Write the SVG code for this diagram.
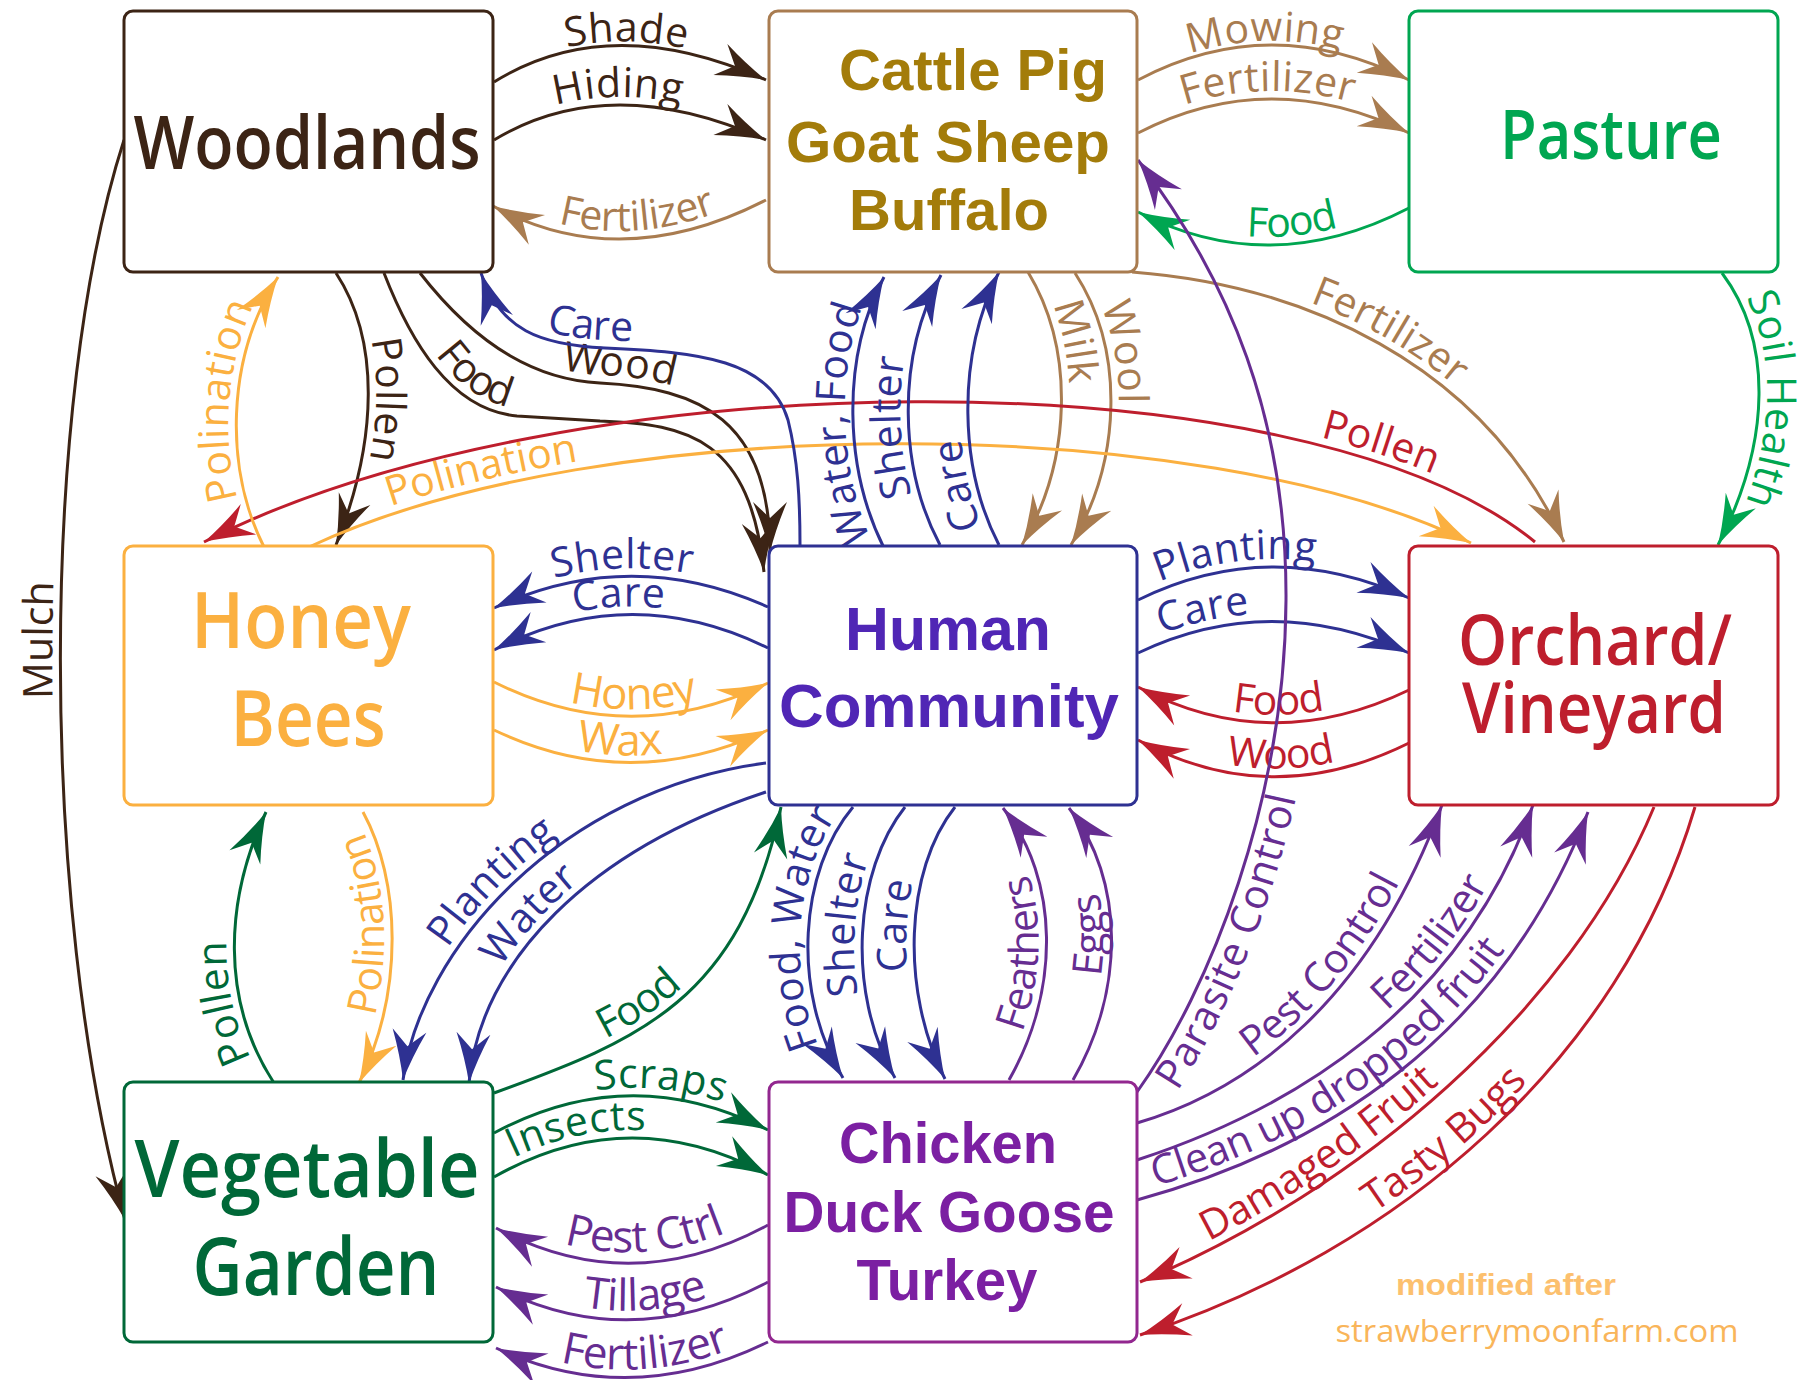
<svg xmlns="http://www.w3.org/2000/svg" width="1810" height="1380" viewBox="0 0 1810 1380">
<style>
.c{fill:none;stroke-width:3}
.br{stroke:#3c2415}.tn{stroke:#a97c50}.gr{stroke:#00a651}.or{stroke:#fbb040}.bl{stroke:#2e3192}.rd{stroke:#be1e2d}.dg{stroke:#006838}.pu{stroke:#662d91}
.l{font-family:"Open Sans","Noto Sans",sans-serif;font-size:41px}
.lg{font-size:44px}
.fbr{fill:#3c2415}.ftn{fill:#a97c50}.fgr{fill:#00a651}.for{fill:#fbb040}.fbl{fill:#2e3192}.frd{fill:#be1e2d}.fdg{fill:#006838}.fpu{fill:#662d91}
.box{fill:#fff;stroke-width:3}
.nt{font-family:"Open Sans","Noto Sans",sans-serif;font-weight:600;text-anchor:middle}
.nb{font-family:"Liberation Sans",Arial,sans-serif;font-weight:bold;text-anchor:middle}
</style>
<defs>
<marker id="a-br" viewBox="-52 -18 54 36" markerWidth="54" markerHeight="36" refX="0" refY="0" orient="auto-start-reverse" markerUnits="userSpaceOnUse"><path d="M0,0 Q-24,-6 -50,-17 L-34,0 L-50,17 Q-24,6 0,0Z" fill="#3c2415"/></marker>
<marker id="a-tn" viewBox="-52 -18 54 36" markerWidth="54" markerHeight="36" refX="0" refY="0" orient="auto-start-reverse" markerUnits="userSpaceOnUse"><path d="M0,0 Q-24,-6 -50,-17 L-34,0 L-50,17 Q-24,6 0,0Z" fill="#a97c50"/></marker>
<marker id="a-gr" viewBox="-52 -18 54 36" markerWidth="54" markerHeight="36" refX="0" refY="0" orient="auto-start-reverse" markerUnits="userSpaceOnUse"><path d="M0,0 Q-24,-6 -50,-17 L-34,0 L-50,17 Q-24,6 0,0Z" fill="#00a651"/></marker>
<marker id="a-or" viewBox="-52 -18 54 36" markerWidth="54" markerHeight="36" refX="0" refY="0" orient="auto-start-reverse" markerUnits="userSpaceOnUse"><path d="M0,0 Q-24,-6 -50,-17 L-34,0 L-50,17 Q-24,6 0,0Z" fill="#fbb040"/></marker>
<marker id="a-bl" viewBox="-52 -18 54 36" markerWidth="54" markerHeight="36" refX="0" refY="0" orient="auto-start-reverse" markerUnits="userSpaceOnUse"><path d="M0,0 Q-24,-6 -50,-17 L-34,0 L-50,17 Q-24,6 0,0Z" fill="#2e3192"/></marker>
<marker id="a-rd" viewBox="-52 -18 54 36" markerWidth="54" markerHeight="36" refX="0" refY="0" orient="auto-start-reverse" markerUnits="userSpaceOnUse"><path d="M0,0 Q-24,-6 -50,-17 L-34,0 L-50,17 Q-24,6 0,0Z" fill="#be1e2d"/></marker>
<marker id="a-dg" viewBox="-52 -18 54 36" markerWidth="54" markerHeight="36" refX="0" refY="0" orient="auto-start-reverse" markerUnits="userSpaceOnUse"><path d="M0,0 Q-24,-6 -50,-17 L-34,0 L-50,17 Q-24,6 0,0Z" fill="#006838"/></marker>
<marker id="a-pu" viewBox="-52 -18 54 36" markerWidth="54" markerHeight="36" refX="0" refY="0" orient="auto-start-reverse" markerUnits="userSpaceOnUse"><path d="M0,0 Q-24,-6 -50,-17 L-34,0 L-50,17 Q-24,6 0,0Z" fill="#662d91"/></marker>
</defs>
<rect width="1810" height="1380" fill="#fff"/>
<g id="connectors">
<!-- Woodlands -->
<path id="p1" class="c br" d="M494,82 Q610,10 766,80" marker-end="url(#a-br)"/>
<text class="l fbr" font-size="39"><textPath href="#p1" startOffset="49%" text-anchor="middle"><tspan dy="-4">Shade</tspan></textPath></text>
<path id="p2" class="c br" d="M494,140 Q610,70 766,140" marker-end="url(#a-br)"/>
<text class="l fbr"><textPath href="#p2" startOffset="46%" text-anchor="middle"><tspan dy="-8">Hiding</tspan></textPath></text>
<path id="p3" class="c tn" d="M493,206 Q620,275 766,200" marker-start="url(#a-tn)"/>
<text class="l ftn"><textPath href="#p3" startOffset="53%" text-anchor="middle"><tspan dy="-8">Fertilizer</tspan></textPath></text>
<path id="p5" class="c br" d="M336,273 C380,340 378,440 336,545" marker-end="url(#a-br)"/>
<text class="l fbr"><textPath href="#p5" startOffset="47%" text-anchor="middle"><tspan dy="-8">Pollen</tspan></textPath></text>
<path id="p6" class="c br" d="M384,273 C410,340 450,410 517,416 L600,421 C690,424 750,440 764,572" marker-end="url(#a-br)"/>
<text class="l fbr"><textPath href="#p6" startOffset="98"><tspan dy="-8">Food</tspan></textPath></text>
<path id="p7" class="c br" d="M420,273 C480,350 540,380 600,383 C700,388 770,420 770,552" marker-end="url(#a-br)"/>
<text class="l fbr"><textPath href="#p7" startOffset="178"><tspan dy="-8">Wood</tspan></textPath></text>
<path id="p12" class="c br" d="M125,1220 C38,900 40,400 124,140" marker-start="url(#a-br)"/>
<text class="l fbr"><textPath href="#p12" startOffset="53.6%" text-anchor="middle"><tspan dy="-8">Mulch</tspan></textPath></text>
<!-- Cattle / Pasture -->
<path id="p13" class="c tn" d="M1138,80 Q1270,10 1409,80" marker-end="url(#a-tn)"/>
<text class="l ftn" font-size="39"><textPath href="#p13" startOffset="47%" text-anchor="middle"><tspan dy="-4">Mowing</tspan></textPath></text>
<path id="p14" class="c tn" d="M1138,133 Q1270,65 1409,133" marker-end="url(#a-tn)"/>
<text class="l ftn"><textPath href="#p14" startOffset="48%" text-anchor="middle"><tspan dy="-8">Fertilizer</tspan></textPath></text>
<path id="p15" class="c gr" d="M1138,212 Q1270,280 1409,208" marker-start="url(#a-gr)"/>
<text class="l fgr"><textPath href="#p15" startOffset="57%" text-anchor="middle"><tspan dy="-8">Food</tspan></textPath></text>
<path id="p16" class="c tn" d="M1132,272 C1300,285 1480,360 1564,542" marker-end="url(#a-tn)"/>
<text class="l ftn"><textPath href="#p16" startOffset="49%" text-anchor="middle"><tspan dy="-8">Fertilizer</tspan></textPath></text>
<path id="p17" class="c gr" d="M1722,273 C1772,340 1772,440 1718,545" marker-end="url(#a-gr)"/>
<text class="l fgr"><textPath href="#p17" startOffset="47%" text-anchor="middle"><tspan dy="-8">Soil Health</tspan></textPath></text>
<path id="p32" class="c tn" d="M1028,272 C1075,350 1072,460 1022,545" marker-end="url(#a-tn)"/>
<text class="l ftn"><textPath href="#p32" startOffset="27.5%" text-anchor="middle"><tspan dy="-8">Milk</tspan></textPath></text>
<path id="p33" class="c tn" d="M1075,273 C1125,350 1122,460 1071,545" marker-end="url(#a-tn)"/>
<text class="l ftn"><textPath href="#p33" startOffset="31%" text-anchor="middle"><tspan dy="-8">Wool</tspan></textPath></text>
<!-- long arcs -->
<path id="p10" class="c or" d="M309,547 C600,410 1200,410 1471,543" marker-end="url(#a-or)"/>
<text class="l for"><textPath href="#p10" startOffset="90"><tspan dy="-8">Polination</tspan></textPath></text>
<path id="p11" class="c rd" d="M204,542 C560,360 1300,350 1535,542" marker-start="url(#a-rd)"/>
<text class="l frd"><textPath href="#p11" startOffset="1255" text-anchor="end"><tspan dy="-8">Pollen</tspan></textPath></text>
<path id="p9" class="c or" d="M264,547 C225,470 225,360 278,277" marker-end="url(#a-or)"/>
<text class="l for"><textPath href="#p9" startOffset="53%" text-anchor="middle"><tspan dy="-8">Polination</tspan></textPath></text>
<path id="p8" class="c bl" d="M481,273 C500,330 540,345 605,348 C700,352 770,360 788,420 C798,460 800,500 800,545" marker-start="url(#a-bl)"/>
<text class="l fbl"><textPath href="#p8" startOffset="95"><tspan dy="-8">Care</tspan></textPath></text>
<!-- Human to Cattle -->
<path id="p26w" class="c bl" d="M884,548 C845,470 840,360 884,277" marker-end="url(#a-bl)"/>
<text class="l fbl"><textPath href="#p26w" startOffset="46%" text-anchor="middle"><tspan dy="-8">Water, Food</tspan></textPath></text>
<path id="p27s" class="c bl" d="M940,545 C900,470 895,360 941,275" marker-end="url(#a-bl)"/>
<text class="l fbl"><textPath href="#p27s" startOffset="44%" text-anchor="middle"><tspan dy="-8">Shelter</tspan></textPath></text>
<path id="p28c" class="c bl" d="M999,545 C960,470 955,360 999,272" marker-end="url(#a-bl)"/>
<text class="l fbl"><textPath href="#p28c" startOffset="24%" text-anchor="middle"><tspan dy="-8">Care</tspan></textPath></text>
<!-- Honey / Human -->
<path id="p18" class="c bl" d="M494,608 Q630,545 768,607" marker-start="url(#a-bl)"/>
<text class="l fbl"><textPath href="#p18" startOffset="47%" text-anchor="middle"><tspan dy="-8">Shelter</tspan></textPath></text>
<path id="p19" class="c bl" d="M494,650 Q630,580 768,648" marker-start="url(#a-bl)"/>
<text class="l fbl"><textPath href="#p19" startOffset="46%" text-anchor="middle"><tspan dy="-8">Care</tspan></textPath></text>
<path id="p20" class="c or" d="M494,682 Q630,750 768,683" marker-end="url(#a-or)"/>
<text class="l lg for"><textPath href="#p20" startOffset="51%" text-anchor="middle"><tspan dy="-7">Honey</tspan></textPath></text>
<path id="p21" class="c or" d="M494,730 Q630,795 768,730" marker-end="url(#a-or)"/>
<text class="l lg for"><textPath href="#p21" startOffset="46%" text-anchor="middle"><tspan dy="-7">Wax</tspan></textPath></text>
<!-- Honey / Veg -->
<path id="p22" class="c dg" d="M274,1083 C220,1000 225,900 266,812" marker-end="url(#a-dg)"/>
<text class="l fdg"><textPath href="#p22" startOffset="32%" text-anchor="middle"><tspan dy="-8">Pollen</tspan></textPath></text>
<path id="p23" class="c or" d="M359,1083 C405,990 400,880 363,812" marker-start="url(#a-or)"/>
<text class="l for"><textPath href="#p23" startOffset="59%" text-anchor="middle"><tspan dy="-8">Polination</tspan></textPath></text>
<!-- Human / Veg -->
<path id="p24" class="c bl" d="M403,1080 C420,950 560,790 766,763" marker-start="url(#a-bl)"/>
<text class="l fbl"><textPath href="#p24" startOffset="42%" text-anchor="middle"><tspan dy="-8">Planting</tspan></textPath></text>
<path id="p25" class="c bl" d="M469,1083 C480,960 590,850 766,792" marker-start="url(#a-bl)"/>
<text class="l fbl"><textPath href="#p25" startOffset="40%" text-anchor="middle"><tspan dy="-8">Water</tspan></textPath></text>
<path id="p25f" class="c dg" d="M494,1093 C640,1040 740,1000 781,807" marker-end="url(#a-dg)"/>
<text class="l fdg"><textPath href="#p25f" startOffset="40%" text-anchor="middle"><tspan dy="-8">Food</tspan></textPath></text>
<!-- Veg / Chicken -->
<path id="p26" class="c dg" d="M494,1133 Q630,1060 768,1130" marker-end="url(#a-dg)"/>
<text class="l fdg"><textPath href="#p26" startOffset="60%" text-anchor="middle"><tspan dy="-8">Scraps</tspan></textPath></text>
<path id="p27" class="c dg" d="M494,1177 Q630,1100 768,1175" marker-end="url(#a-dg)"/>
<text class="l fdg"><textPath href="#p27" startOffset="32%" text-anchor="middle"><tspan dy="-8">Insects</tspan></textPath></text>
<path id="p28" class="c pu" d="M496,1228 Q630,1300 768,1225" marker-start="url(#a-pu)"/>
<text class="l lg fpu"><textPath href="#p28" startOffset="55%" text-anchor="middle"><tspan dy="-11">Pest Ctrl</tspan></textPath></text>
<path id="p29" class="c pu" d="M496,1287 Q630,1355 768,1282" marker-start="url(#a-pu)"/>
<text class="l lg fpu"><textPath href="#p29" startOffset="55%" text-anchor="middle"><tspan dy="-9">Tillage</tspan></textPath></text>
<path id="p30" class="c pu" d="M496,1348 Q630,1410 768,1342" marker-start="url(#a-pu)"/>
<text class="l lg fpu"><textPath href="#p30" startOffset="55%" text-anchor="middle"><tspan dy="-8">Fertilizer</tspan></textPath></text>
<!-- Human / Chicken -->
<path id="p31a" class="c bl" d="M843,1078 C790,990 800,870 853,807" marker-start="url(#a-bl)"/>
<text class="l fbl"><textPath href="#p31a" startOffset="54%" text-anchor="middle"><tspan dy="-8">Food, Water</tspan></textPath></text>
<path id="p31b" class="c bl" d="M895,1078 C845,990 855,870 905,807" marker-start="url(#a-bl)"/>
<text class="l fbl"><textPath href="#p31b" startOffset="55%" text-anchor="middle"><tspan dy="-8">Shelter</tspan></textPath></text>
<path id="p31c" class="c bl" d="M945,1079 C900,990 905,870 955,807" marker-start="url(#a-bl)"/>
<text class="l fbl"><textPath href="#p31c" startOffset="55%" text-anchor="middle"><tspan dy="-8">Care</tspan></textPath></text>
<path id="p32f" class="c pu" d="M1009,1080 C1060,990 1060,880 1003,808" marker-end="url(#a-pu)"/>
<text class="l fpu"><textPath href="#p32f" startOffset="46%" text-anchor="middle"><tspan dy="-8">Feathers</tspan></textPath></text>
<path id="p33e" class="c pu" d="M1073,1080 C1125,990 1125,880 1069,808" marker-end="url(#a-pu)"/>
<text class="l fpu"><textPath href="#p33e" startOffset="53%" text-anchor="middle"><tspan dy="-8">Eggs</tspan></textPath></text>
<!-- Human / Orchard -->
<path id="p34" class="c bl" d="M1138,600 Q1270,535 1409,598" marker-end="url(#a-bl)"/>
<text class="l fbl"><textPath href="#p34" startOffset="37%" text-anchor="middle"><tspan dy="-8">Planting</tspan></textPath></text>
<path id="p35" class="c bl" d="M1138,653 Q1270,590 1409,653" marker-end="url(#a-bl)"/>
<text class="l fbl"><textPath href="#p35" startOffset="26%" text-anchor="middle"><tspan dy="-8">Care</tspan></textPath></text>
<path id="p36" class="c rd" d="M1138,687 Q1270,757 1409,690" marker-start="url(#a-rd)"/>
<text class="l frd"><textPath href="#p36" startOffset="52%" text-anchor="middle"><tspan dy="-8">Food</tspan></textPath></text>
<path id="p37" class="c rd" d="M1138,740 Q1270,812 1409,743" marker-start="url(#a-rd)"/>
<text class="l frd"><textPath href="#p37" startOffset="53%" text-anchor="middle"><tspan dy="-8">Wood</tspan></textPath></text>
<!-- Chicken / Orchard / Cattle -->
<path id="p38" class="c pu" d="M1137,1092 C1210,990 1285,800 1286,600 C1287,420 1230,280 1138,160" marker-end="url(#a-pu)"/>
<text class="l fpu"><textPath href="#p38" startOffset="22"><tspan dy="33">Parasite Control</tspan></textPath></text>
<path id="p39" class="c pu" d="M1137,1123 C1250,1090 1370,1000 1442,805" marker-end="url(#a-pu)"/>
<text class="l fpu"><textPath href="#p39" startOffset="135"><tspan dy="-8">Pest Control</tspan></textPath></text>
<path id="p40" class="c pu" d="M1137,1160 C1290,1110 1460,1010 1533,805" marker-end="url(#a-pu)"/>
<text class="l fpu"><textPath href="#p40" startOffset="295"><tspan dy="-8">Fertilizer</tspan></textPath></text>
<path id="p41" class="c pu" d="M1137,1200 C1320,1150 1500,1040 1588,812" marker-end="url(#a-pu)"/>
<text class="l fpu"><textPath href="#p41" startOffset="22"><tspan dy="-8">Clean up dropped fruit</tspan></textPath></text>
<path id="p42" class="c rd" d="M1140,1282 C1360,1190 1570,1010 1654,807" marker-start="url(#a-rd)"/>
<text class="l frd"><textPath href="#p42" startOffset="80"><tspan dy="-8">Damaged Fruit</tspan></textPath></text>
<path id="p43" class="c rd" d="M1140,1335 C1400,1250 1620,1060 1695,807" marker-start="url(#a-rd)"/>
<text class="l frd"><textPath href="#p43" startOffset="266"><tspan dy="-8">Tasty Bugs</tspan></textPath></text>
</g>
<g id="woodlands">
<rect class="box" x="124" y="11" width="369" height="261" rx="9" stroke="#3c2415"/>
<text class="nt" x="307" y="169" font-size="74" textLength="347" lengthAdjust="spacingAndGlyphs" fill="#3c2415">Woodlands</text>
</g>
<g id="livestock">
<rect class="box" x="769" y="11" width="368" height="261" rx="9" stroke="#a97c50"/>
<text class="nb" x="973" y="90" font-size="58" textLength="268" lengthAdjust="spacingAndGlyphs" fill="#a37c0a">Cattle Pig</text>
<text class="nb" x="948" y="162" font-size="58" textLength="324" lengthAdjust="spacingAndGlyphs" fill="#a37c0a">Goat Sheep</text>
<text class="nb" x="949" y="230" font-size="58" textLength="200" lengthAdjust="spacingAndGlyphs" fill="#a37c0a">Buffalo</text>
</g>
<g id="pasture">
<rect class="box" x="1409" y="11" width="369" height="261" rx="9" stroke="#00a651"/>
<text class="nt" x="1611" y="159" font-size="68" textLength="222" lengthAdjust="spacingAndGlyphs" fill="#00a651">Pasture</text>
</g>
<g id="honeybees">
<rect class="box" x="124" y="546" width="369" height="259" rx="9" stroke="#fbb040"/>
<text class="nt" x="301" y="648" font-size="78" textLength="220" lengthAdjust="spacingAndGlyphs" fill="#fbb040">Honey</text>
<text class="nt" x="308" y="746" font-size="78" textLength="155" lengthAdjust="spacingAndGlyphs" fill="#fbb040">Bees</text>
</g>
<g id="human">
<rect class="box" x="769" y="546" width="368" height="259" rx="9" stroke="#2e3192"/>
<text class="nb" x="948" y="650" font-size="62" textLength="206" lengthAdjust="spacingAndGlyphs" fill="#5026b5">Human</text>
<text class="nb" x="949" y="727" font-size="62" textLength="340" lengthAdjust="spacingAndGlyphs" fill="#5026b5">Community</text>
</g>
<g id="orchard">
<rect class="box" x="1409" y="546" width="369" height="259" rx="9" stroke="#be1e2d"/>
<text class="nt" x="1595" y="665" font-size="70" textLength="274" lengthAdjust="spacingAndGlyphs" fill="#be1e2d">Orchard/</text>
<text class="nt" x="1594" y="733" font-size="70" textLength="264" lengthAdjust="spacingAndGlyphs" fill="#be1e2d">Vineyard</text>
</g>
<g id="vegetable">
<rect class="box" x="124" y="1082" width="369" height="260" rx="9" stroke="#006838"/>
<text class="nt" x="307" y="1197" font-size="80" textLength="345" lengthAdjust="spacingAndGlyphs" fill="#006838">Vegetable</text>
<text class="nt" x="316" y="1295" font-size="80" textLength="247" lengthAdjust="spacingAndGlyphs" fill="#006838">Garden</text>
</g>
<g id="poultry">
<rect class="box" x="769" y="1082" width="368" height="260" rx="9" stroke="#92278f"/>
<text class="nb" x="948" y="1163" font-size="57" textLength="218" lengthAdjust="spacingAndGlyphs" fill="#7b1fa2">Chicken</text>
<text class="nb" x="949" y="1232" font-size="57" textLength="331" lengthAdjust="spacingAndGlyphs" fill="#7b1fa2">Duck Goose</text>
<text class="nb" x="947" y="1300" font-size="57" textLength="181" lengthAdjust="spacingAndGlyphs" fill="#7b1fa2">Turkey</text>
</g>
<g id="credit">
<text x="1506" y="1295" font-family="Liberation Sans, Arial, sans-serif" font-weight="bold" font-size="29" text-anchor="middle" textLength="220" lengthAdjust="spacingAndGlyphs" fill="#fcc06e">modified after</text>
<text x="1537" y="1342" font-family="Open Sans, Noto Sans, sans-serif" font-size="31" text-anchor="middle" textLength="403" lengthAdjust="spacingAndGlyphs" fill="#f9b55a">strawberrymoonfarm.com</text>
</g>
</svg>
